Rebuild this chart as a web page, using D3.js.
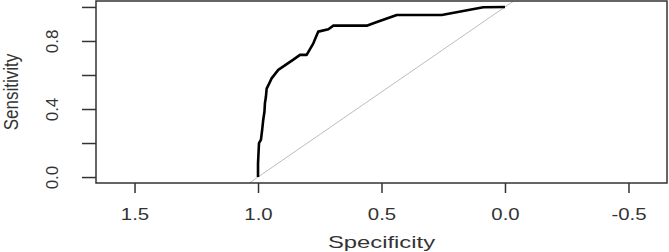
<!DOCTYPE html>
<html>
<head>
<meta charset="utf-8">
<script src="https://cdn.jsdelivr.net/npm/d3@7"></script>
<style>
  body { margin: 0; background: #fff; }
  text { font-family: "Liberation Sans", Arial, sans-serif; fill: #333; }
</style>
</head>
<body>
<div id="chart"></div>
<script>
(function() {
    let w = 669, h = 252

    // ROC curve (specificity, sensitivity)
    let specificity = [1.0, 1.0, 0.996, 0.988, 0.983, 0.979, 0.974, 0.972, 0.968, 0.965, 0.958, 0.945,
                       0.918, 0.857, 0.83, 0.803, 0.776, 0.756, 0.715, 0.695, 0.56, 0.513, 0.438,
                       0.256, 0.088, 0.0]
    let sensitivity = [0.0, 0.08, 0.20, 0.22, 0.28, 0.335, 0.384, 0.434, 0.472, 0.52, 0.54, 0.58,
                       0.63, 0.69, 0.718, 0.718, 0.786, 0.855, 0.869, 0.89, 0.89, 0.914, 0.953,
                       0.953, 0.998, 1.0]
    let xTicks = [1.5, 1.0, 0.5, 0.0, -0.5]
    let yTicks = [0.0, 0.2, 0.4, 0.6, 0.8, 1.0]
    let yLabelled = [0.0, 0.4, 0.8]

    let left = 96, right = 667, top = 1, bottom = 183

    let x = d3.scaleLinear().domain([1.656, -0.656]).range([left, right])
    let y = d3.scaleLinear().domain([-0.035, 1.035]).range([bottom, top])

    let svg = d3.select("#chart")
                .append("svg")
                .attr("width", w)
                .attr("height", h)

    svg.append("clipPath").attr("id", "plotclip")
       .append("rect")
       .attr("x", left).attr("y", top)
       .attr("width", right - left).attr("height", bottom - top)

    let plot = svg.append("g").attr("clip-path", "url(#plotclip)")

    // chance diagonal, extended across the plot like abline
    plot.append("line")
        .attr("x1", x(1.656)).attr("y1", y(1 - 1.656))
        .attr("x2", x(-0.656)).attr("y2", y(1 + 0.656))
        .attr("stroke", "#bdbdbd")
        .attr("stroke-width", 1)

    let pts = specificity.map((s, i) => [s, sensitivity[i]])

    let line = d3.line().x(d => x(d[0])).y(d => y(d[1]))

    plot.append("path")
        .datum(pts)
        .attr("d", line)
        .attr("fill", "none")
        .attr("stroke", "#000")
        .attr("stroke-width", 2.6)
        .attr("stroke-linejoin", "round")

    // box
    svg.append("rect")
       .attr("x", left).attr("y", top)
       .attr("width", right - left).attr("height", bottom - top)
       .attr("fill", "none")
       .attr("stroke", "#333")
       .attr("stroke-width", 1.5)

    // x axis
    let xAxis = svg.append("g")
        .attr("transform", "translate(0," + bottom + ")")
        .call(d3.axisBottom(x).tickValues(xTicks).tickSize(10).tickFormat(d => d.toFixed(1)))
    xAxis.select(".domain").remove()
    xAxis.selectAll("line").attr("stroke", "#333").attr("stroke-width", 1.5)
    xAxis.selectAll("text")
         .attr("y", 37).attr("dy", 0)
         .attr("font-size", 17)
         .attr("fill", "#333")
         .attr("transform", "scale(1.2,1)")

    // y axis
    let yAxis = svg.append("g")
        .attr("transform", "translate(" + left + ",0)")
        .call(d3.axisLeft(y).tickValues(yTicks).tickSize(14)
              .tickFormat(d => yLabelled.includes(d) ? d.toFixed(1) : ""))
    yAxis.select(".domain").remove()
    yAxis.selectAll("line").attr("stroke", "#333").attr("stroke-width", 1.5)
    yAxis.selectAll("text")
         .attr("x", 0).attr("y", -38).attr("dy", 0)
         .attr("text-anchor", "middle")
         .attr("font-size", 17)
         .attr("fill", "#333")
         .attr("transform", "rotate(-90)")

    // axis titles
    svg.append("text")
       .text("Specificity")
       .attr("text-anchor", "middle")
       .attr("font-size", 17)
       .attr("transform", "translate(" + (left + right) / 2 + ",248) scale(1.4,1)")

    svg.append("text")
       .text("Sensitivity")
       .attr("text-anchor", "middle")
       .attr("font-size", 17)
       .attr("transform", "translate(18," + (top + bottom) / 2 + ") scale(1.2,1) rotate(-90)")
})()
</script>
</body>
</html>
